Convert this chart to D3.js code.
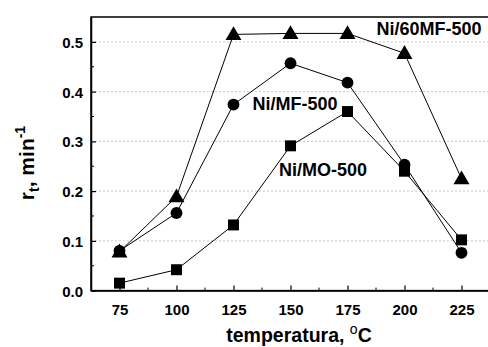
<!DOCTYPE html>
<html>
<head>
<meta charset="utf-8">
<script src="https://cdn.jsdelivr.net/npm/d3@7"></script>
<style>
  body { margin: 0; background: #fff; }
  text { font-family: "Liberation Sans", Arial, sans-serif; font-weight: bold; fill: #000; }
</style>
</head>
<body>
<div id="chart"></div>
<script>
// temperatures (°C)
var temps = [75, 100, 125, 150, 175, 200, 225];
// reaction rate r_t, min^-1
var ni60mf = [0.078, 0.189, 0.515, 0.517, 0.517, 0.477, 0.225];
var nimf   = [0.080, 0.156, 0.374, 0.457, 0.418, 0.253, 0.076];
var nimo   = [0.015, 0.042, 0.132, 0.291, 0.360, 0.240, 0.102];
var xTicks = [75, 100, 125, 150, 175, 200, 225];
var yTicks = [0.0, 0.1, 0.2, 0.3, 0.4, 0.5];
var seriesNames = ["Ni/60MF-500", "Ni/MF-500", "Ni/MO-500"];

var W = 488, H = 347;

var svg = d3.select("#chart")
    .append("svg")
    .attr("width", W)
    .attr("height", H);

var x = d3.scaleLinear().domain([62.5, 237.5]).range([91, 490]);
var y = d3.scaleLinear().domain([0, 0.55]).range([290.6, 17]);

// grid lines
svg.append("g")
    .selectAll("line")
    .data(yTicks.filter(d => d > 0))
    .join("line")
    .attr("x1", x.range()[0])
    .attr("x2", x.range()[1])
    .attr("y1", d => y(d))
    .attr("y2", d => y(d))
    .attr("stroke", "#c8c8c8")
    .attr("stroke-width", 1)
    .attr("stroke-dasharray", "2,2");

// frame (top and right)
svg.append("rect")
    .attr("x", x.range()[0])
    .attr("y", y.range()[1])
    .attr("width", x.range()[1] - x.range()[0])
    .attr("height", y.range()[0] - y.range()[1])
    .attr("fill", "none")
    .attr("stroke", "#000")
    .attr("stroke-width", 1.5);

// minor ticks
var yMinor = d3.range(0.05, 0.55, 0.1);
var xMinor = d3.range(87.5, 237.5, 25);

var yAxis = d3.axisLeft(y).tickValues(yTicks).tickSizeInner(-5).tickSizeOuter(0)
    .tickPadding(8).tickFormat(d3.format(".1f"));
var gy = svg.append("g")
    .attr("transform", "translate(" + x.range()[0] + ",0)")
    .call(yAxis);
gy.append("g").selectAll("line").data(yMinor).join("line")
    .attr("x1", 0).attr("x2", 3)
    .attr("y1", d => y(d)).attr("y2", d => y(d))
    .attr("stroke", "#000");

var xAxis = d3.axisBottom(x).tickValues(xTicks).tickSizeInner(-5).tickSizeOuter(0)
    .tickPadding(14);
var gx = svg.append("g")
    .attr("transform", "translate(0," + y.range()[0] + ")")
    .call(xAxis);
gx.append("g").selectAll("line").data(xMinor).join("line")
    .attr("x1", d => x(d)).attr("x2", d => x(d))
    .attr("y1", 0).attr("y2", -3)
    .attr("stroke", "#000");

svg.selectAll(".domain").attr("stroke-width", 1.5);
svg.selectAll(".tick line").attr("stroke-width", 1.2);
svg.selectAll(".tick text").style("font-size", "15px")
    .style("font-family", "'Liberation Sans', Arial, sans-serif")
    .style("font-weight", "bold");
gy.selectAll(".tick text").attr("dy", "0.36em");

// series
var series = [
    { name: seriesNames[0], values: ni60mf, symbol: d3.symbolTriangle, size: 110 },
    { name: seriesNames[1], values: nimf, symbol: d3.symbolCircle, size: 110 },
    { name: seriesNames[2], values: nimo, symbol: d3.symbolSquare, size: 120 }
];

var line = d3.line()
    .x((d, i) => x(temps[i]))
    .y(d => y(d));

series.forEach(function (s) {
    svg.append("path")
        .datum(s.values)
        .attr("fill", "none")
        .attr("stroke", "#000")
        .attr("stroke-width", 1)
        .attr("d", line);
});

series.forEach(function (s) {
    svg.append("g")
        .selectAll("path")
        .data(s.values)
        .join("path")
        .attr("transform", (d, i) => "translate(" + x(temps[i]) + "," + (y(d) + (s.symbol === d3.symbolTriangle ? 1 : 0)) + ")")
        .attr("d", d3.symbol().type(s.symbol).size(s.size))
        .attr("fill", "#000");
});

// series labels
svg.append("text").attr("x", 376.5).attr("y", 35).style("font-size", "18px").text(seriesNames[0]);
svg.append("text").attr("x", 252.5).attr("y", 110).style("font-size", "18px").text(seriesNames[1]);
svg.append("text").attr("x", 279).attr("y", 176).style("font-size", "18px").text(seriesNames[2]);

// axis titles
var xt = svg.append("text")
    .attr("x", 299)
    .attr("y", 341.5)
    .attr("text-anchor", "middle")
    .style("font-size", "19.5px");
xt.append("tspan").text("temperatura, ");
xt.append("tspan").attr("dy", "-8").style("font-size", "14px").style("font-weight", "normal").text("o");
xt.append("tspan").attr("dy", "8").text("C");

var yt = svg.append("text")
    .attr("transform", "translate(34,163) rotate(-90)")
    .attr("text-anchor", "middle")
    .style("font-size", "21px");
yt.append("tspan").text("r");
yt.append("tspan").attr("dy", "5").style("font-size", "14px").text("t");
yt.append("tspan").attr("dy", "-5").text(", min");
yt.append("tspan").attr("dy", "-9").style("font-size", "14px").text("-1");
</script>
</body>
</html>
